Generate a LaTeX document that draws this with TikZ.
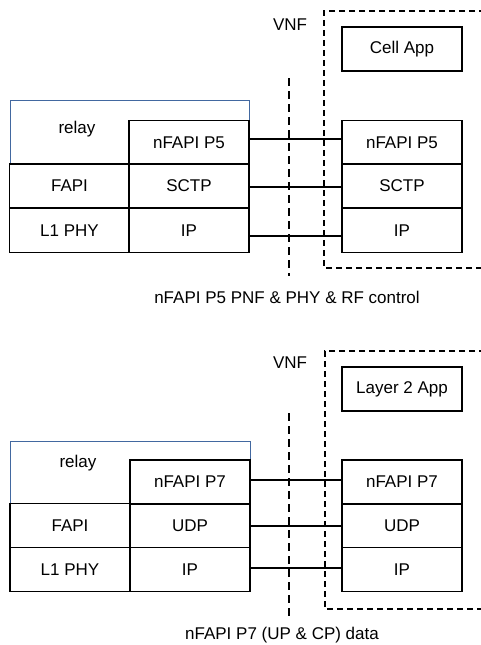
\documentclass[tikz,border=0pt]{standalone}
\usepackage{fontspec}
\setmainfont{Liberation Sans}
\definecolor{relayblue}{RGB}{66,104,160}
\begin{document}
\begin{tikzpicture}[x=1pt,y=-1pt,
  every node/.style={font=\fontsize{17}{20}\selectfont},
  layer/.style={draw=black, line width=1.3pt, minimum width=120pt, minimum height=44pt, inner sep=0pt, outer sep=0pt},
  relaybox/.style={draw=relayblue, line width=1pt, minimum width=239pt, minimum height=64pt, inner sep=0pt, outer sep=0pt},
  link/.style={line width=2pt},
  split/.style={line width=2.2pt, dash pattern=on 8pt off 5pt},
  vnfbox/.style={line width=1.2pt, dash pattern=on 6pt off 4pt},
  plain/.style={inner sep=1pt}]
\useasboundingbox (0,0) rectangle (481,645);

% ---------- P5: control plane ----------
\node[relaybox] (relayA) at (129.5,132) {};
\node[plain] (relayAtxt) at (77,129) {relay};
\node[layer] (p5L) at (189,142.5) {nFAPI P5};
\node[layer] (fapiA) at (69.5,186) {FAPI};
\node[layer] (sctpL) at (189,186) {SCTP};
\node[layer] (phyA) at (69.5,230.5) {L1 PHY};
\node[layer] (ipAL) at (189,230.5) {IP};

\node[layer] (cellapp) at (402,49) {Cell App};
\node[layer] (p5R) at (402,142.5) {nFAPI P5};
\node[layer] (sctpR) at (402,186) {SCTP};
\node[layer] (ipAR) at (402,230.5) {IP};

\draw[link] ([yshift=3.5pt]p5L.east) -- ([yshift=3.5pt]p5R.west);
\draw[link] ([yshift=-1pt]sctpL.east) -- ([yshift=-1pt]sctpR.west);
\draw[link] ([yshift=-5.5pt]ipAL.east) -- ([yshift=-5.5pt]ipAR.west);

\coordinate (splitAtop) at (289,78);
\coordinate (splitAbot) at (289,276);
\draw[split] (splitAtop) -- (splitAbot);

\coordinate (vnfA1) at (485,11);
\coordinate (vnfA2) at (324,11);
\coordinate (vnfA3) at (324,268);
\coordinate (vnfA4) at (485,268);
\draw[vnfbox] (vnfA1) -- (vnfA2) -- (vnfA3) -- (vnfA4);

\node[plain] (vnfAtxt) at (290,25) {VNF};
\node[plain] (capA) at (287,297) {nFAPI P5 PNF \& PHY \& RF control};

% ---------- P7: data plane ----------
\node[relaybox, minimum width=240pt, minimum height=62pt] (relayB) at (130,472) {};
\node[plain] (relayBtxt) at (78,463) {relay};
\node[layer] (p7L) at (190,482) {nFAPI P7};
\node[layer] (fapiB) at (70,525.5) {FAPI};
\node[layer] (udpL) at (190,525.5) {UDP};
\node[layer] (phyB) at (70,569.5) {L1 PHY};
\node[layer] (ipBL) at (190,569.5) {IP};

\node[layer] (l2app) at (402,389) {Layer 2 App};
\node[layer] (p7R) at (402,482) {nFAPI P7};
\node[layer] (udpR) at (402,525.5) {UDP};
\node[layer] (ipBR) at (402,569.5) {IP};

\draw[link] ([yshift=2.5pt]p7L.east) -- ([yshift=2.5pt]p7R.west);
\draw[link] ([yshift=-0.5pt]udpL.east) -- ([yshift=-0.5pt]udpR.west);
\draw[link] ([yshift=1.5pt]ipBL.east) -- ([yshift=1.5pt]ipBR.west);

\coordinate (splitBtop) at (289,413);
\coordinate (splitBbot) at (289,618);
\draw[split] (splitBtop) -- (splitBbot);

\coordinate (vnfB1) at (485,351);
\coordinate (vnfB2) at (325,351);
\coordinate (vnfB3) at (325,609);
\coordinate (vnfB4) at (485,609);
\draw[vnfbox] (vnfB1) -- (vnfB2) -- (vnfB3) -- (vnfB4);

\node[plain] (vnfBtxt) at (290,363) {VNF};
\node[plain] (capB) at (282,635) {nFAPI P7 (UP \& CP) data};
\end{tikzpicture}
\end{document}
